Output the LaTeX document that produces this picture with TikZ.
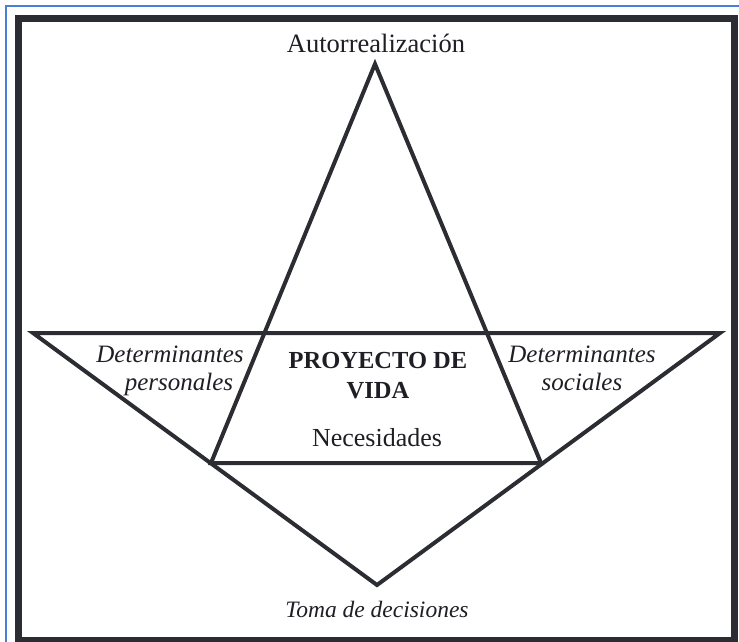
\documentclass[tikz,border=0pt]{standalone}
\usepackage{fontspec}
\setmainfont{Liberation Serif}
\definecolor{lineclr}{HTML}{2B2D33}
\definecolor{frameblue}{HTML}{4A7FD6}
\definecolor{txtclr}{HTML}{1E1E24}
\tikzset{
  tri/.style={draw=lineclr, line width=4pt, line join=miter},
  lbl/.style={text=txtclr, inner sep=0pt, anchor=base},
  ilbl/.style={lbl, font=\fontsize{25}{28}\selectfont\itshape, align=center},
  blbl/.style={lbl, font=\fontsize{24.5}{30}\selectfont\bfseries, align=center}
}
\begin{document}
\begin{tikzpicture}[x=1pt, y=-1pt]
\useasboundingbox (0,0) rectangle (739,641);
% outer frames
\draw[frameblue, line width=2pt] (6,660) -- (6,6) -- (760,6);
\draw[lineclr, line width=7pt] (18.5,18.5) rectangle (734.5,640.5);
% vertices
\coordinate (apex) at (375,64);
\coordinate (bl) at (211,463);
\coordinate (br) at (541,463);
\coordinate (tl) at (33,333);
\coordinate (tr) at (720,333);
\coordinate (bot) at (377,585);
% triangles
\draw[tri] (tl) -- (tr) -- (bot) -- cycle;
\draw[tri] (apex) -- (br) -- (bl) -- cycle;
% labels
\node[lbl, font=\fontsize{26.5}{28}\selectfont] (auto) at (376,52) {Autorrealización};
\node[ilbl, anchor=base] (dp) at (170,390) {Determinantes\\\hspace*{18pt}personales};
\node[ilbl, anchor=base] (ds) at (582,390) {Determinantes\\sociales};
\node[blbl, anchor=base] (pv) at (378,398) {PROYECTO DE\\VIDA};
\node[lbl, font=\fontsize{26}{28}\selectfont] (nec) at (377,446) {Necesidades};
\node[lbl, font=\fontsize{23.5}{28}\selectfont\itshape] (toma) at (377,617) {Toma de decisiones};
\end{tikzpicture}
\end{document}
